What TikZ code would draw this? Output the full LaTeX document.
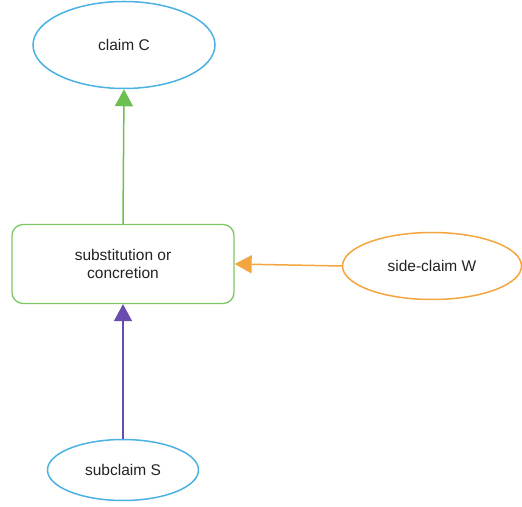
\documentclass[tikz,border=0pt]{standalone}
\usepackage{fontspec}
\setmainfont{Liberation Sans}
\usetikzlibrary{positioning, shapes.geometric, arrows.meta}

\definecolor{claimblue}{HTML}{4BB1E3}
\definecolor{stepgreen}{HTML}{7FC763}
\definecolor{arrowgreen}{HTML}{6CC04F}
\definecolor{sideorange}{HTML}{F3A53F}
\definecolor{subpurple}{HTML}{6A4CAE}
\definecolor{labelgray}{HTML}{222222}

\begin{document}
\begin{tikzpicture}[
  x=1pt, y=1pt,
  >={Triangle[length=17pt, width=18pt]},
  every node/.style={font=\fontsize{15.5}{18}\selectfont, align=center,
                     text=labelgray},
  claimnode/.style={draw=claimblue, ellipse, line width=1.5pt, inner sep=0pt},
  sidenode/.style={draw=sideorange, ellipse, line width=1.5pt, inner sep=0pt},
  stepbox/.style={draw=stepgreen, rounded corners=11pt, line width=1.3pt,
                  minimum width=222pt, minimum height=79pt},
  link/.style={->, line width=1.5pt}
]
\useasboundingbox (0, 0) rectangle (522, 506);

% ---- Claims ----
\node[claimnode, minimum width=182pt, minimum height=87pt] (claim) at (124, 461)
  {claim C};
\node[claimnode, minimum width=151pt, minimum height=61pt] (sub) at (123, 36)
  {subclaim S};

% ---- Inference step ----
\node[stepbox] (subst) at (123, 242)
  {substitution or\\concretion};

% ---- Side claim ----
\node[sidenode, minimum width=179pt, minimum height=67pt] (side) at (432, 240)
  {side-claim W};

% ---- Arrows ----
\draw[link, arrowgreen] (subst.north) -- (claim.south);
\draw[link, sideorange] (side.west) -- (subst.east);
\draw[link, subpurple] (sub.north) -- (subst.south);

\end{tikzpicture}
\end{document}
